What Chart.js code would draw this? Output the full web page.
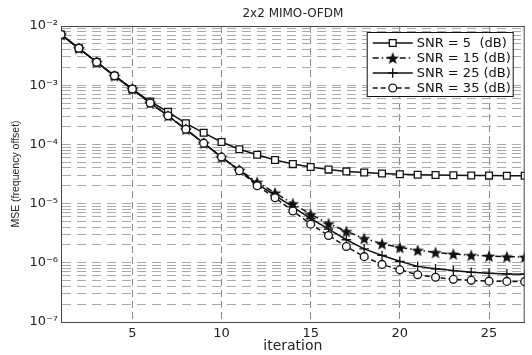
<!DOCTYPE html>
<html><head><meta charset="utf-8">
<script src="https://cdn.jsdelivr.net/npm/chart.js@4"></script>
<style>html,body{margin:0;padding:0;background:#fff}</style>
</head><body>
<canvas id="c" width="532" height="355"></canvas>
<script>
const iterations = [1,2,3,4,5,6,7,8,9,10,11,12,13,14,15,16,17,18,19,20,21,22,23,24,25,26,27];
const snr5  = [7.2e-3,4.2e-3,2.45e-3,1.44e-3,8.6e-4,5.3e-4,3.55e-4,2.27e-4,1.57e-4,1.1e-4,8.3e-5,6.7e-5,5.45e-5,4.65e-5,4.15e-5,3.75e-5,3.5e-5,3.35e-5,3.22e-5,3.14e-5,3.08e-5,3.04e-5,3.01e-5,2.99e-5,2.97e-5,2.96e-5,2.95e-5];
const snr15 = [7.2e-3,4.2e-3,2.45e-3,1.44e-3,8.6e-4,5.0e-4,3.05e-4,1.8e-4,1.05e-4,6.1e-5,3.7e-5,2.3e-5,1.52e-5,1.0e-5,6.6e-6,4.6e-6,3.4e-6,2.58e-6,2.1e-6,1.82e-6,1.63e-6,1.5e-6,1.41e-6,1.34e-6,1.3e-6,1.27e-6,1.25e-6];
const snr25 = [7.2e-3,4.2e-3,2.45e-3,1.44e-3,8.6e-4,5.0e-4,3.05e-4,1.8e-4,1.05e-4,6.1e-5,3.65e-5,2.15e-5,1.38e-5,8.8e-6,5.6e-6,3.7e-6,2.45e-6,1.72e-6,1.33e-6,1.06e-6,8.7e-7,7.9e-7,7.4e-7,6.9e-7,6.65e-7,6.5e-7,6.4e-7];
const snr35 = [7.2e-3,4.2e-3,2.45e-3,1.44e-3,8.6e-4,5.0e-4,3.05e-4,1.8e-4,1.05e-4,6.1e-5,3.6e-5,2.0e-5,1.26e-5,7.5e-6,4.5e-6,2.9e-6,1.88e-6,1.27e-6,9.4e-7,7.6e-7,6.3e-7,5.7e-7,5.25e-7,5.05e-7,4.9e-7,4.85e-7,4.8e-7];
const seriesLabels = ['SNR = 5  (dB)','SNR = 15 (dB)','SNR = 25 (dB)','SNR = 35 (dB)'];
const xTickValues = [5,10,15,20,25];
const yDecades = [-7,-6,-5,-4,-3,-2];
const chartTitle = '2x2 MIMO-OFDM';
const xTitle = 'iteration';
const yTitle = 'MSE (frequency offset)';

const INK = '#111';
const TXT = '#222';

function makeStar() {
  const c = document.createElement('canvas');
  c.width = 14; c.height = 14;
  const g = c.getContext('2d');
  g.beginPath();
  for (let i = 0; i < 10; i++) {
    const r = i % 2 ? 2.8 : 6.6;
    const a = -Math.PI / 2 + i * Math.PI / 5;
    g.lineTo(7 + r * Math.cos(a), 7.7 + r * Math.sin(a));
  }
  g.closePath();
  g.fillStyle = INK; g.fill();
  return c;
}
const starImg = makeStar();

function sup(n) {
  const d = '⁰¹²³⁴⁵⁶⁷⁸⁹';
  const s = String(Math.abs(n)).split('').map(ch => d[+ch]).join('');
  return (n < 0 ? '⁻' : '') + s;
}
function pairs(arr) { return iterations.map((x, i) => ({x: x, y: arr[i]})); }

const styles = [
  {pointStyle: 'rect', pointRadius: 4.8, dash: [], bg: '#fff'},
  {pointStyle: starImg, pointRadius: 6, dash: [6, 3, 1.5, 3], bg: INK},
  {pointStyle: 'cross', pointRadius: 4.8, dash: [], bg: INK},
  {pointStyle: 'circle', pointRadius: 3.9, dash: [5, 3], bg: '#fff'}
];
const seriesData = [snr5, snr15, snr25, snr35];

const datasets = seriesData.map((arr, i) => ({
  label: seriesLabels[i],
  data: pairs(arr),
  borderColor: INK,
  borderWidth: 1.5,
  borderDash: styles[i].dash,
  pointStyle: styles[i].pointStyle,
  pointRadius: styles[i].pointRadius,
  pointBackgroundColor: styles[i].bg,
  pointBorderColor: INK,
  pointBorderWidth: 1.3,
  tension: 0,
  fill: false,
  order: 4 - i
}));

function drawMarker(ctx, st, x, y) {
  const r = st.pointRadius;
  ctx.save();
  ctx.setLineDash([]);
  ctx.lineWidth = 1.3;
  ctx.strokeStyle = INK;
  ctx.fillStyle = st.bg;
  if (typeof st.pointStyle !== 'string') {
    const img = st.pointStyle;
    ctx.drawImage(img, x - img.width / 2, y - img.height / 2);
  } else if (st.pointStyle === 'rect') {
    const s = r * Math.SQRT1_2;
    ctx.beginPath(); ctx.rect(x - s, y - s, 2 * s, 2 * s); ctx.fill(); ctx.stroke();
  } else if (st.pointStyle === 'circle') {
    ctx.beginPath(); ctx.arc(x, y, r, 0, Math.PI * 2); ctx.fill(); ctx.stroke();
  } else if (st.pointStyle === 'cross') {
    ctx.beginPath(); ctx.moveTo(x, y - r); ctx.lineTo(x, y + r); ctx.moveTo(x - r, y); ctx.lineTo(x + r, y); ctx.stroke();
  }
  ctx.restore();
}

const framePlugin = {
  id: 'frameAndLegend',
  afterLayout(chart) {
    const t = chart.titleBlock;
    if (t) { t.left = chart.chartArea.left; t.right = chart.chartArea.right; t.width = t.right - t.left; }
  },
  afterDraw(chart) {
    const {ctx, chartArea: a} = chart;
    ctx.save();
    ctx.strokeStyle = '#444'; ctx.lineWidth = 1; ctx.setLineDash([]);
    ctx.beginPath();
    ctx.moveTo(a.left, a.top + 0.5); ctx.lineTo(a.right, a.top + 0.5);
    ctx.moveTo(a.right - 0.5, a.top); ctx.lineTo(a.right - 0.5, a.bottom);
    ctx.stroke();
    // legend box
    const bw = 146, bh = 64;
    const bx = a.right - 158, by = a.top + 6;
    ctx.fillStyle = '#fff';
    ctx.fillRect(bx, by, bw, bh);
    ctx.strokeStyle = INK;
    ctx.strokeRect(bx + 0.5, by + 0.5, bw, bh);
    ctx.font = '13px "DejaVu Sans"';
    ctx.textBaseline = 'middle';
    ctx.textAlign = 'left';
    chart.data.datasets.forEach((ds, i) => {
      const y = by + 11 + 15 * i;
      ctx.save();
      ctx.strokeStyle = INK; ctx.lineWidth = 1.5;
      ctx.setLineDash(ds.borderDash || []);
      ctx.beginPath(); ctx.moveTo(bx + 6, y); ctx.lineTo(bx + 46, y); ctx.stroke();
      ctx.restore();
      drawMarker(ctx, styles[i], bx + 26, y);
      ctx.fillStyle = INK;
      ctx.fillText(ds.label, bx + 50, y + 0.5);
    });
    ctx.restore();
  }
};

new Chart(document.getElementById('c'), {
  type: 'line',
  data: {datasets: datasets},
  plugins: [framePlugin],
  options: {
    responsive: false,
    animation: false,
    layout: {padding: {left: 3, right: 4, top: 0, bottom: 0}},
    plugins: {
      legend: {display: false},
      tooltip: {enabled: false},
      title: {
        display: true, text: chartTitle, color: TXT,
        font: {family: 'DejaVu Sans', size: 12, weight: 'normal'},
        padding: {top: 7, bottom: 4.6}
      }
    },
    scales: {
      x: {
        type: 'linear', min: 1, max: 27,
        afterBuildTicks: s => { s.ticks = xTickValues.map(v => ({value: v})); },
        afterFit: s => { s.height = 33; },
        ticks: {color: TXT, font: {family: 'DejaVu Sans', size: 13}, padding: 4, autoSkip: false, maxRotation: 0},
        grid: {color: '#888', lineWidth: 1, drawTicks: false},
        border: {display: true, color: '#444', width: 1, dash: [7, 4]},
        title: {display: true, text: xTitle, color: TXT, font: {family: 'DejaVu Sans', size: 14}, padding: {top: 0, bottom: 0}}
      },
      y: {
        type: 'logarithmic', min: 1e-7, max: 1e-2,
        afterBuildTicks: s => {
          const t = [];
          yDecades.forEach(e => {
            for (let m = 1; m <= 9; m++) {
              if (e === yDecades[yDecades.length - 1] && m > 1) break;
              t.push({value: m * Math.pow(10, e)});
            }
          });
          s.ticks = t;
        },
        afterFit: s => { s.width = 58; },
        ticks: {
          color: TXT, font: {family: 'DejaVu Sans', size: 13}, padding: 3, autoSkip: false,
          callback: v => {
            const e = Math.log10(v);
            return Math.abs(e - Math.round(e)) < 1e-9 ? '10' + sup(Math.round(e)) : '';
          }
        },
        grid: {color: '#aaa', lineWidth: 1, drawTicks: false},
        border: {display: true, color: '#444', width: 1, dash: [9, 6]},
        title: {display: true, text: yTitle, color: TXT, font: {family: 'Liberation Sans', size: 10.5}, padding: {top: 6.5, bottom: 0}}
      }
    }
  }
});
</script>
</body></html>
